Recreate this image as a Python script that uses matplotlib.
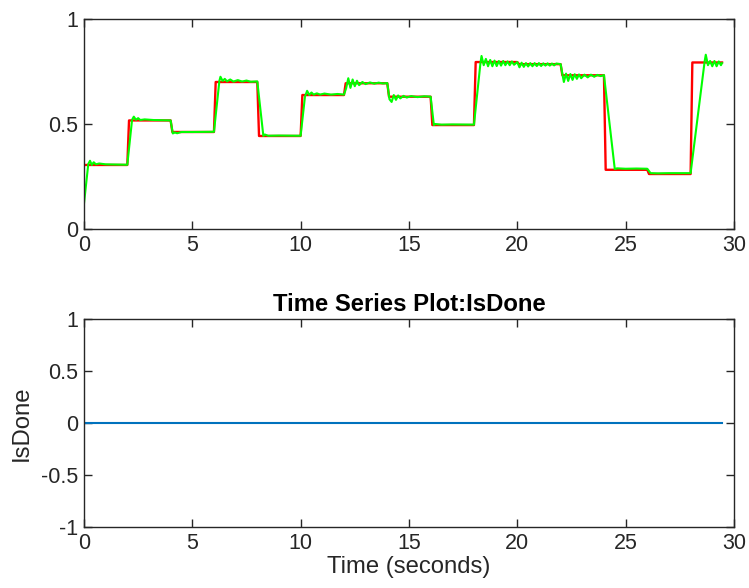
import numpy as np
import matplotlib.pyplot as plt

plt.rcParams['font.family'] = ['Liberation Sans', 'DejaVu Sans']

# reference (red): one level per 2 s interval
step_starts = [0, 2, 4, 6, 8, 10, 12, 14, 16, 18, 20, 22, 24, 26, 28]
ref_levels = [0.305, 0.517, 0.462, 0.700, 0.443, 0.638, 0.694, 0.630,
              0.495, 0.795, 0.785, 0.732, 0.282, 0.262, 0.793]
t_end = 29.45

resp_t = [0.0, 0.2, 0.28, 0.36, 0.45, 0.55, 0.7, 1.0, 1.5, 2.0,
          2.22, 2.3, 2.4, 2.5, 2.6, 2.8, 3.2, 3.6, 4.0,
          4.1, 4.2, 4.3, 4.5, 5.0, 6.0,
          6.25, 6.3, 6.4, 6.5, 6.6, 6.75, 6.9, 7.1, 7.3, 7.5, 7.7, 8.0,
          8.28, 8.35, 8.5, 9.0, 10.0,
          10.2, 10.3, 10.4, 10.5, 10.6, 10.75, 10.9, 11.1, 11.4, 11.7, 12.0,
          12.1, 12.2, 12.3, 12.4, 12.5, 12.6, 12.7, 12.85, 13.0, 13.2, 13.4, 13.6, 13.8, 14.0,
          14.1, 14.2, 14.3, 14.4, 14.5, 14.6, 14.75, 14.9, 15.1, 15.4, 15.7, 16.0,
          16.15, 16.2, 16.5, 17.0, 18.0,
          18.3, 18.35, 18.45, 18.55, 18.65, 18.75, 18.85, 18.95, 19.05, 19.15,
          19.25, 19.35, 19.45, 19.55, 19.65, 19.75, 19.85, 20.0,
          20.1, 20.2, 20.3, 20.4, 20.5, 20.6, 20.7, 20.8, 20.9, 21.0,
          21.1, 21.2, 21.3, 21.4, 21.5, 21.6, 21.7, 21.8, 22.0,
          22.1, 22.15, 22.25, 22.35, 22.45, 22.55, 22.65, 22.75, 22.85, 22.95,
          23.1, 23.25, 23.4, 23.55, 23.7, 23.85, 24.0,
          24.5, 24.6, 25.0, 25.5, 26.0,
          26.15, 26.5, 27.0, 28.0,
          28.65, 28.7, 28.8, 28.9, 29.0, 29.1, 29.2, 29.3, 29.4, 29.45]
resp_y = [0.12, 0.31, 0.325, 0.305, 0.318, 0.308, 0.312, 0.308, 0.307, 0.306,
          0.52, 0.535, 0.52, 0.528, 0.519, 0.522, 0.519, 0.518, 0.517,
          0.455, 0.46, 0.456, 0.462, 0.462, 0.463,
          0.705, 0.725, 0.705, 0.715, 0.703, 0.712, 0.702, 0.709, 0.702, 0.707, 0.701, 0.703,
          0.443, 0.45, 0.444, 0.445, 0.444,
          0.63, 0.658, 0.638, 0.65, 0.64, 0.646, 0.64, 0.645, 0.64, 0.643, 0.64,
          0.67, 0.718, 0.672, 0.712, 0.68, 0.706, 0.685, 0.70, 0.69, 0.698, 0.692, 0.697, 0.693, 0.695,
          0.618, 0.605, 0.638, 0.615, 0.636, 0.622, 0.634, 0.626, 0.633, 0.628, 0.632, 0.63,
          0.495, 0.50, 0.497, 0.498, 0.497,
          0.79, 0.824, 0.78, 0.81, 0.775, 0.805, 0.775, 0.802, 0.776, 0.80,
          0.778, 0.80, 0.78, 0.798, 0.78, 0.798, 0.782, 0.795,
          0.77, 0.792, 0.772, 0.79, 0.774, 0.79, 0.775, 0.79, 0.776, 0.79,
          0.776, 0.789, 0.778, 0.789, 0.778, 0.788, 0.779, 0.788, 0.785,
          0.73, 0.70, 0.74, 0.705, 0.738, 0.71, 0.737, 0.715, 0.736, 0.718,
          0.735, 0.722, 0.735, 0.725, 0.734, 0.728, 0.733,
          0.285, 0.289, 0.287, 0.288, 0.287,
          0.266, 0.265, 0.266, 0.266,
          0.80, 0.83, 0.78, 0.80, 0.775, 0.80, 0.775, 0.798, 0.78, 0.79]

# IsDone signal
done_t = [0.0, 29.45]
done_y = [0, 0]

# build the red step trace from the levels (short ramp at each switch)
ref_t, ref_y = [], []
ends = step_starts[1:] + [t_end]
for i, (s, e, v) in enumerate(zip(step_starts, ends, ref_levels)):
    ref_t += [s + (0.08 if i else 0), e]
    ref_y += [v, v]

dark = '#262626'
fs_tick = 15.5
fs_lab = 17.2


def style(ax):
    ax.set_xlim(0, 30)
    ax.set_xticks(np.arange(0, 31, 5))
    ax.tick_params(direction='in', top=True, right=True, length=6, width=1,
                   labelsize=fs_tick, colors=dark, pad=4)
    for sp in ax.spines.values():
        sp.set_color(dark)
        sp.set_linewidth(1)


fig = plt.figure(figsize=(7.49, 5.88), dpi=100)

ax1 = fig.add_axes([0.1121, 0.6105, 0.8678, 0.3572])
ax1.plot(ref_t, ref_y, color='#ff0000', linewidth=1.7)
ax1.plot(resp_t, resp_y, color='#00ff00', linewidth=1.5)
ax1.set_ylim(0, 1)
ax1.set_yticks([0, 0.5, 1])
ax1.set_yticklabels(['0', '0.5', '1'])
style(ax1)

ax2 = fig.add_axes([0.1121, 0.1037, 0.8678, 0.3538])
ax2.plot(done_t, done_y, color='#0072BD', linewidth=1.5)
ax2.set_ylim(-1, 1)
ax2.set_yticks([-1, -0.5, 0, 0.5, 1])
ax2.set_yticklabels(['-1', '-0.5', '0', '0.5', '1'])
style(ax2)
ax2.set_title('Time Series Plot:IsDone', fontsize=fs_lab, fontweight='bold',
              color='#000000', pad=6)
ax2.set_xlabel('Time (seconds)', fontsize=fs_lab, color=dark, labelpad=2)
ax2.set_ylabel('IsDone', fontsize=fs_lab, color=dark, labelpad=6)

fig.savefig('out.png', dpi=100)
